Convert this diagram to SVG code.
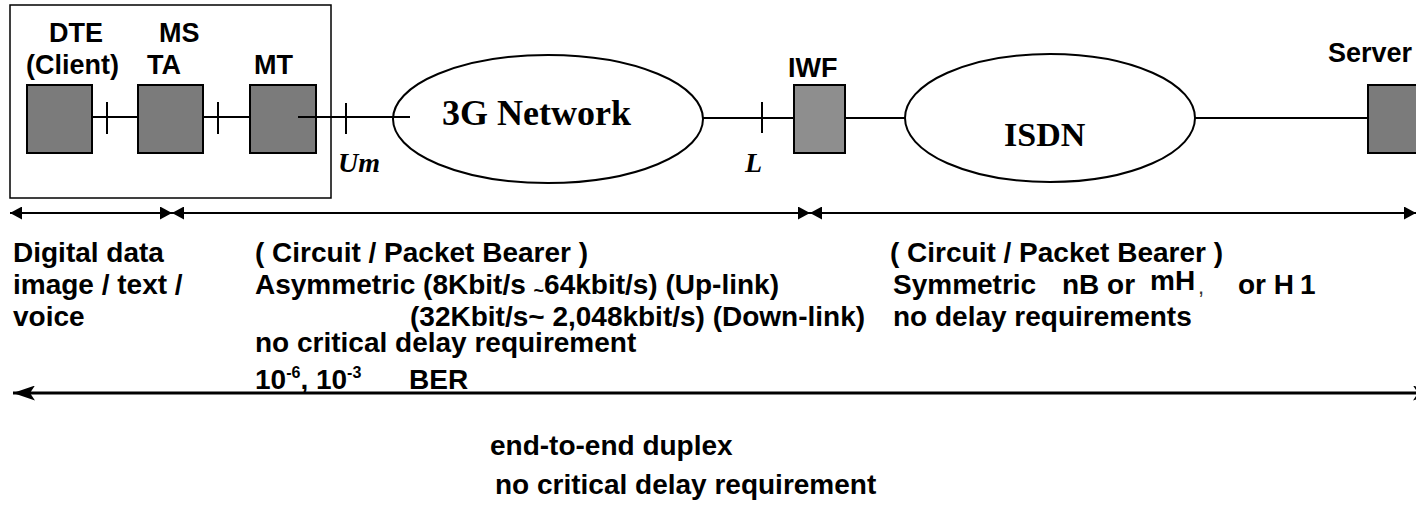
<svg xmlns="http://www.w3.org/2000/svg" width="1416" height="508" viewBox="0 0 1416 508">
<defs>
<style>
.lbl{font-family:"Liberation Sans",Arial,sans-serif;font-weight:bold;font-size:27px;fill:#000}
.txt{font-family:"Liberation Sans",Arial,sans-serif;font-weight:bold;font-size:28px;fill:#000}
.ser{font-family:"Liberation Serif","Times New Roman",serif;font-weight:bold;fill:#000}
.it{font-style:italic;font-size:28px}
.box{fill:#7b7b7b;stroke:#000;stroke-width:2}
.box2{fill:#8e8e8e;stroke:#000;stroke-width:2}
.ell{fill:#fff;stroke:#000;stroke-width:2}
.ln{stroke:#000;stroke-width:2;fill:none}
.ar{stroke:#000;stroke-width:2;fill:none;marker-start:url(#h1);marker-end:url(#h1)}
.ar2{stroke:#000;stroke-width:3;fill:none;marker-start:url(#h2);marker-end:url(#h2)}
</style>
<marker id="h1" viewBox="0 0 12 13" refX="12" refY="6.5" markerWidth="12" markerHeight="13" markerUnits="userSpaceOnUse" orient="auto-start-reverse"><path d="M0,0 L12,6.5 L0,13 z" fill="#000"/></marker>
<marker id="h2" viewBox="0 0 22 15" refX="22" refY="7.5" markerWidth="22" markerHeight="15" markerUnits="userSpaceOnUse" orient="auto-start-reverse"><path d="M0,0 L22,7.5 L0,15 L5,7.5 z" fill="#000"/></marker>
</defs>
<rect width="1416" height="508" fill="#fff"/>

<g id="ms-frame">
<rect x="10" y="5" width="321" height="193" fill="none" stroke="#000" stroke-width="1.5"/>
</g>

<g id="connectors">
<line class="ln" x1="92" y1="117" x2="138" y2="117"/>
<line class="ln" x1="107" y1="102" x2="107" y2="134"/>
<line class="ln" x1="203" y1="117" x2="250" y2="117"/>
<line class="ln" x1="218" y1="102" x2="218" y2="134"/>
<line class="ln" x1="346" y1="103" x2="346" y2="134"/>
<line class="ln" x1="702" y1="118" x2="794" y2="118"/>
<line class="ln" x1="762" y1="102" x2="762" y2="133"/>
<line class="ln" x1="845" y1="118" x2="905" y2="118"/>
<line class="ln" x1="1194" y1="118" x2="1368" y2="118"/>
<line class="ar" x1="10" y1="213" x2="172" y2="213"/>
<line class="ar" x1="172" y1="213" x2="810" y2="213"/>
<line class="ar" x1="810" y1="213" x2="1416" y2="213"/>
<line class="ar2" x1="13" y1="393" x2="1435" y2="393"/>
</g>

<g id="dte">
<rect class="box" x="27" y="85" width="65" height="68"/>
<text class="lbl" x="49" y="42">DTE</text>
<text class="lbl" x="26" y="74">(Client)</text>
</g>
<g id="ta">
<rect class="box" x="138" y="85" width="65" height="68"/>
<text class="lbl" x="159" y="42">MS</text>
<text class="lbl" x="147" y="74">TA</text>
</g>
<g id="mt">
<rect class="box" x="250" y="85" width="66" height="68"/>
<text class="lbl" x="254" y="74">MT</text>
</g>
<g id="mt-link">
<line class="ln" x1="298" y1="117" x2="410" y2="117"/>
<text class="ser it" x="338" y="172">Um</text>
</g>
<g id="net3g">
<ellipse class="ell" cx="548" cy="119" rx="155" ry="64"/>
<line class="ln" x1="393" y1="117" x2="410" y2="117"/>
<text class="ser" x="442" y="125" font-size="36">3G Network</text>
</g>
<g id="l-ref">
<text class="ser it" x="745" y="172">L</text>
</g>
<g id="iwf">
<rect class="box2" x="794" y="85" width="51" height="68"/>
<text class="lbl" x="788" y="77">IWF</text>
</g>
<g id="isdn">
<ellipse class="ell" cx="1050" cy="118" rx="145" ry="64"/>
<text class="ser" x="1004" y="146" font-size="34">ISDN</text>
</g>
<g id="server">
<rect class="box" x="1368" y="85" width="60" height="68"/>
<text class="lbl" x="1328" y="62">Server</text>
</g>

<g id="texts">
<text class="txt" x="13" y="262">Digital data</text>
<text class="txt" x="13" y="294">image / text /</text>
<text class="txt" x="13" y="326">voice</text>

<text class="txt" x="255" y="262">( Circuit / Packet Bearer )</text>
<text class="txt" x="255" y="294">Asymmetric (8Kbit/s <tspan font-size="18" dy="3">~</tspan><tspan dy="-3">64kbit/s) (Up-link)</tspan></text>
<text class="txt" x="410" y="326">(32Kbit/s~ 2,048kbit/s) (Down-link)</text>
<text class="txt" x="255" y="352">no critical delay requirement</text>
<text class="txt" x="255" y="389">10<tspan font-size="16" dy="-11">-6</tspan><tspan dy="11">, 10</tspan><tspan font-size="16" dy="-11">-3</tspan></text>
<text class="txt" x="409" y="389">BER</text>

<text class="txt" x="890" y="262">( Circuit / Packet Bearer )</text>
<text class="txt" x="893" y="294">Symmetric</text>
<text class="txt" x="1062" y="294">nB or</text>
<text class="txt" x="1150" y="290">mH</text>
<text x="1198" y="294" font-family="'Liberation Sans',Arial,sans-serif" font-size="22" fill="#333">,</text>
<text class="txt" x="1238" y="294">or H</text>
<text class="txt" x="1300" y="294" font-size="20">1</text>
<text class="txt" x="893" y="326">no delay requirements</text>

<text class="txt" x="490" y="455">end-to-end duplex</text>
<text class="txt" x="495" y="494">no critical delay requirement</text>
</g>
</svg>
